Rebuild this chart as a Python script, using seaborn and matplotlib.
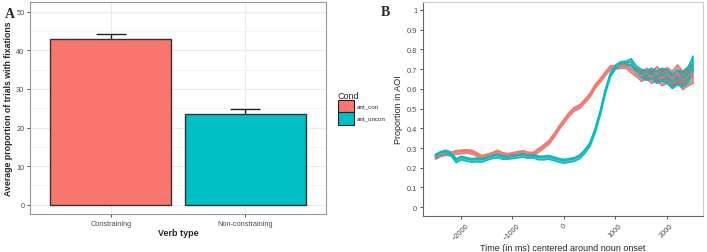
import matplotlib
matplotlib.use('Agg')
import matplotlib.pyplot as plt
import matplotlib.patches as mpatches
import numpy as np
import pandas as pd
import seaborn as sns

# panel A data
verb_types = ['Constraining', 'Non-constraining']
conds = ['ant_con', 'ant_uncon']
fix_means = [43.0, 23.6]
fix_se = [1.2, 1.2]

# panel B data (100 ms bins)
time_ms = list(range(-2500, 2501, 100))
con_mean = [0.255, 0.268, 0.275, 0.272, 0.280, 0.283, 0.285, 0.282, 0.270, 0.255,
            0.262, 0.270, 0.282, 0.270, 0.265, 0.270, 0.275, 0.280, 0.272, 0.272,
            0.290, 0.310, 0.330, 0.365, 0.405, 0.440, 0.475, 0.500, 0.512, 0.540,
            0.570, 0.615, 0.645, 0.680, 0.710, 0.712, 0.718, 0.720, 0.700, 0.685,
            0.665, 0.680, 0.660, 0.680, 0.655, 0.670, 0.650, 0.680, 0.645, 0.665,
            0.680]
uncon_mean = [0.262, 0.275, 0.282, 0.272, 0.238, 0.252, 0.245, 0.240, 0.242, 0.240,
              0.250, 0.258, 0.262, 0.255, 0.255, 0.258, 0.262, 0.265, 0.260, 0.262,
              0.252, 0.252, 0.255, 0.248, 0.240, 0.235, 0.240, 0.245, 0.258, 0.285,
              0.320, 0.390, 0.480, 0.590, 0.675, 0.715, 0.730, 0.730, 0.740, 0.700,
              0.680, 0.670, 0.680, 0.660, 0.675, 0.665, 0.640, 0.660, 0.650, 0.670,
              0.730]
con_se = [0.009] * 36 + [0.011, 0.013, 0.016, 0.020, 0.024, 0.027, 0.030, 0.034,
                         0.037, 0.040, 0.042, 0.044, 0.046, 0.048, 0.050]
uncon_se = [0.009] * 36 + [0.010, 0.012, 0.015, 0.018, 0.021, 0.024, 0.027, 0.030,
                           0.032, 0.034, 0.036, 0.037, 0.038, 0.038, 0.038]

pal = {'ant_con': '#F8766D', 'ant_uncon': '#00BFC4'}

sns.set_style('white')
plt.rcParams['font.family'] = ['Liberation Sans', 'DejaVu Sans']

fig = plt.figure(figsize=(7.07, 2.53), dpi=100)
axA = fig.add_axes([0.0424, 0.150, 0.4187, 0.838])
axB = fig.add_axes([0.598, 0.142, 0.396, 0.846])

# ---- panel A
dfA = pd.DataFrame({'verb': verb_types, 'cond': conds, 'mean': fix_means, 'se': fix_se})
axA.set_axisbelow(True)
axA.errorbar(x=[0, 1], y=dfA['mean'], yerr=dfA['se'], fmt='none', ecolor='#222222',
             elinewidth=1.0, capsize=11, capthick=1.0, zorder=0.8)
sns.barplot(data=dfA, x='verb', y='mean', hue='cond', palette=pal, dodge=False,
            width=0.9, edgecolor='#333333', linewidth=1.0, errorbar=None,
            saturation=1, legend=False, ax=axA, zorder=1)
axA.set_xlim(-0.6, 1.6)
axA.set_ylim(-2.4, 52.5)
axA.set_yticks(np.arange(0, 51, 10))
axA.set_yticks(np.arange(5, 51, 10), minor=True)
axA.grid(True, which='major', color='#EBEBEB', linewidth=0.8)
axA.grid(True, which='minor', axis='y', color='#F2F2F2', linewidth=0.5)
axA.tick_params(axis='both', which='major', labelsize=5.3, colors='#333333',
                labelcolor='#4D4D4D', length=2, width=0.6, pad=2, left=True, bottom=True)
axA.tick_params(which='minor', length=0)
for s in axA.spines.values():
    s.set_color('#999999')
    s.set_linewidth(0.8)
axA.set_xlabel('Verb type', fontsize=6.5, fontweight='bold', labelpad=1)
axA.set_ylabel('Average proportion of trials with fixations', fontsize=6.3,
               fontweight='bold', labelpad=1)
axA.yaxis.set_label_coords(-0.058, 0.5)

handles = [mpatches.Patch(facecolor=pal[c], edgecolor='#222222', linewidth=0.8, label=c)
           for c in conds]
leg = fig.legend(handles=handles, title='Cond', loc='upper left',
                 bbox_to_anchor=(0.474, 0.645), frameon=False, fontsize=4.5,
                 title_fontsize=6.5, handlelength=2.6, handleheight=2.6,
                 labelspacing=0.0, handletextpad=0.5, borderaxespad=0)
leg._legend_box.align = 'left'

fig.text(0.007, 0.93, 'A', fontsize=10, fontweight='bold', family='Liberation Serif')

# ---- panel B
dfB = pd.DataFrame({'time': time_ms * 2,
                    'prop': con_mean + uncon_mean,
                    'se': con_se + uncon_se,
                    'cond': ['ant_con'] * len(time_ms) + ['ant_uncon'] * len(time_ms)})
for c in conds:
    sub = dfB[dfB['cond'] == c]
    axB.fill_between(sub['time'], sub['prop'] - sub['se'], sub['prop'] + sub['se'],
                     facecolor=(0.4, 0.4, 0.4, 0.5), edgecolor=pal[c],
                     linewidth=1.2, zorder=2)
sns.lineplot(data=dfB, x='time', y='prop', hue='cond', palette=pal, linewidth=1.0,
             legend=False, ax=axB, zorder=3)
axB.set_xlim(-2740, 2700)
axB.set_ylim(-0.045, 1.04)
axB.set_xticks([-2000, -1000, 0, 1000, 2000])
axB.set_yticks(np.arange(0, 1.01, 0.1))
axB.set_yticklabels(['0'] + [f'{v:.1f}' for v in np.arange(0.1, 0.95, 0.1)] + ['1'])
axB.tick_params(axis='both', labelsize=5.3, colors='#333333', labelcolor='#4D4D4D',
                length=2, width=0.6, pad=2, left=True, bottom=True)
plt.setp(axB.get_xticklabels(), rotation=45, ha='center', va='top')
axB.spines['left'].set_color('#666666')
axB.spines['bottom'].set_color('#666666')
axB.spines['top'].set_color('#CCCCCC')
axB.spines['right'].set_color('#CCCCCC')
for s in axB.spines.values():
    s.set_linewidth(0.8)
axB.set_xlabel('Time (in ms) centered around noun onset', fontsize=6.5, labelpad=1)
axB.set_ylabel('Proportion in AOI', fontsize=6.5, labelpad=3)

fig.text(0.538, 0.935, 'B', fontsize=10, fontweight='bold', family='Liberation Serif')

fig.savefig('out.png', dpi=100)
plt.close(fig)
